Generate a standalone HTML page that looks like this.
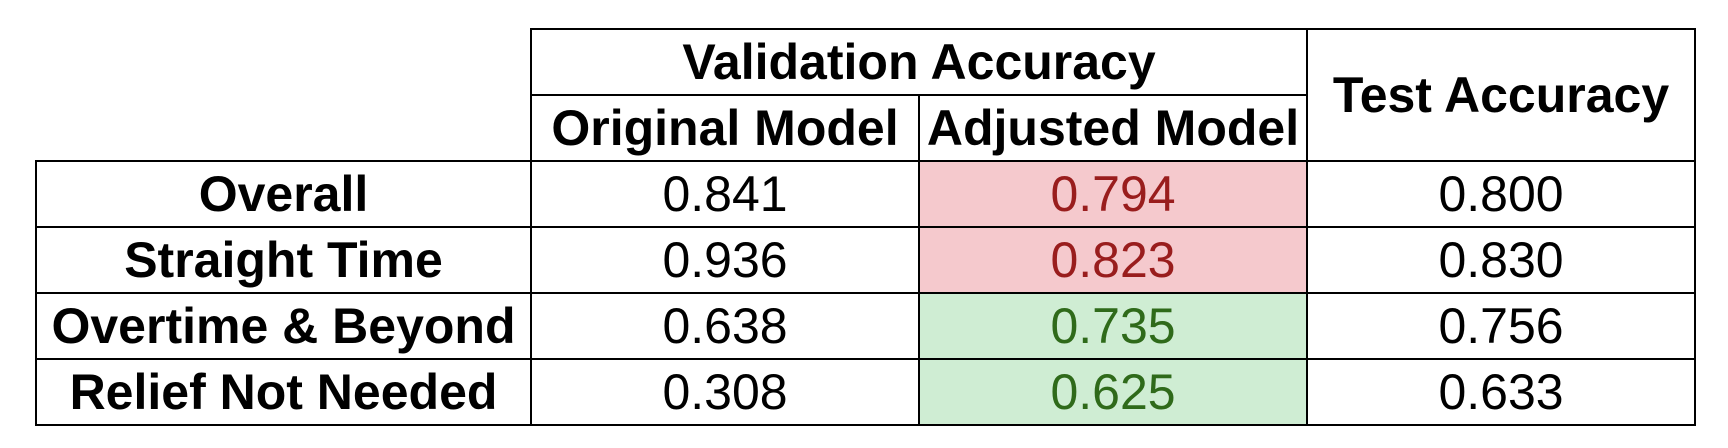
<!DOCTYPE html>
<html><head><meta charset="utf-8"><style>
html,body{margin:0;padding:0;background:#fff;width:1728px;height:448px;overflow:hidden}
#t{position:absolute;left:0;top:0;width:1728px;height:448px;font-family:"Liberation Sans",Arial,sans-serif;font-size:50px}
.c{position:absolute;display:flex;align-items:center;justify-content:center;box-sizing:border-box;white-space:nowrap}
.b{font-weight:bold}
.l{position:absolute;background:#000}
</style></head><body>
<div id="t">
<div class="c b" style="left:531px;top:29px;width:776px;height:66px">Validation Accuracy</div>
<div class="c b" style="left:1307px;top:29px;width:388px;height:132px">Test Accuracy</div>
<div class="c b" style="left:531px;top:95px;width:388px;height:66px">Original Model</div>
<div class="c b" style="left:919px;top:95px;width:388px;height:66px">Adjusted Model</div>
</div>
<script>
const labels=["Overall","Straight Time","Overtime & Beyond","Relief Not Needed"];
const original=["0.841","0.936","0.638","0.308"];
const adjusted=["0.794","0.823","0.735","0.625"];
const test=["0.800","0.830","0.756","0.633"];
const better=[false,false,true,true];
const t=document.getElementById('t');
function cell(x,y,w,h,txt,cls,bg,col,name){
  const d=document.createElement('div');
  d.className='c '+cls;
  d.style.cssText=`left:${x}px;top:${y}px;width:${w}px;height:${h}px;`+(bg?`background:${bg};`:'')+(col?`color:${col};`:'');
  d.textContent=txt;
  
  
  t.appendChild(d);
}
labels.forEach((lab,i)=>{
  const y=161+i*66;
  cell(36,y,495,66,lab,'b',null,null,'row-label');
  cell(531,y,388,66,original[i],'',null,null,'original-value');
  cell(919,y,388,66,adjusted[i],'',better[i]?'#cfedd3':'#f5c9cd',better[i]?'#2f6a1a':'#991d1d','adjusted-value');
  cell(1307,y,388,66,test[i],'',null,null,'test-value');
});
function line(x,y,w,h){
  const d=document.createElement('div');
  d.className='l';
  d.style.cssText=`left:${x}px;top:${y}px;width:${w}px;height:${h}px`;
  
  
  t.appendChild(d);
}
line(530,28,1166,2);
line(530,94,778,2);
[160,226,292,358,424].forEach(y=>line(35,y,1661,2));
line(35,160,2,266);
line(530,28,2,398);
line(918,94,2,332);
line(1306,28,2,398);
line(1694,28,2,398);
</script>
</body></html>
